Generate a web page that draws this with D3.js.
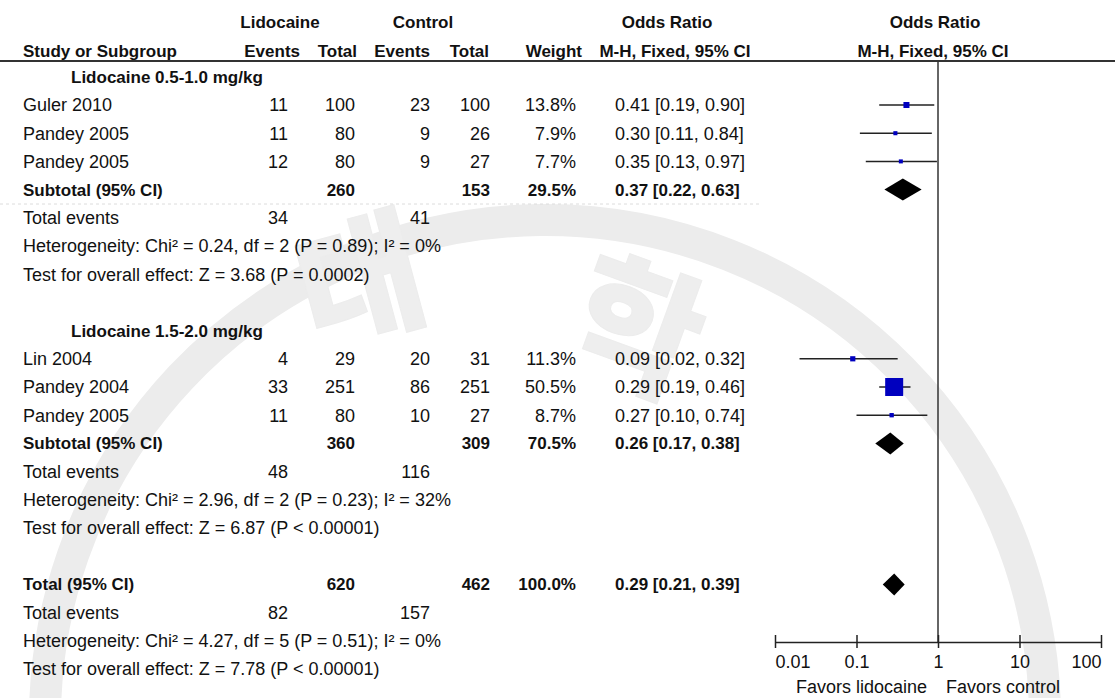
<!DOCTYPE html>
<html>
<head>
<meta charset="utf-8">
<script src="https://cdn.jsdelivr.net/npm/d3@7"></script>
<style>
  body { margin: 0; background: #fff; }
  svg text { font-family: "Liberation Sans", Arial, sans-serif; font-size: 18px; fill: #111; }
  svg text.b { font-weight: bold; font-size: 17px; }
</style>
</head>
<body>
<div id="chart"></div>
<script>
// study level data
const studyNames = ["Guler 2010", "Pandey 2005", "Pandey 2005", "Lin 2004", "Pandey 2004", "Pandey 2005"];
const studyGroup = [0, 0, 0, 1, 1, 1];
const lidoEvents = [11, 11, 12, 4, 33, 11];
const lidoTotal = [100, 80, 80, 29, 251, 80];
const ctrlEvents = [23, 9, 9, 20, 86, 10];
const ctrlTotal = [100, 26, 27, 31, 251, 27];
const weights = [13.8, 7.9, 7.7, 11.3, 50.5, 8.7];
const oddsRatio = [0.41, 0.30, 0.35, 0.09, 0.29, 0.27];
const ciLow = [0.19, 0.11, 0.13, 0.02, 0.19, 0.10];
const ciHigh = [0.90, 0.84, 0.97, 0.32, 0.46, 0.74];

// subgroups and overall
const groupNames = ["Lidocaine 0.5-1.0 mg/kg", "Lidocaine 1.5-2.0 mg/kg"];
const groupLidoTotal = [260, 360];
const groupCtrlTotal = [153, 309];
const groupWeight = ["29.5%", "70.5%"];
const groupOR = [0.37, 0.26];
const groupLow = [0.22, 0.17];
const groupHigh = [0.63, 0.38];
const groupLidoEvents = [34, 48];
const groupCtrlEvents = [41, 116];
const groupHetero = ["Heterogeneity: Chi² = 0.24, df = 2 (P = 0.89); I² = 0%",
                     "Heterogeneity: Chi² = 2.96, df = 2 (P = 0.23); I² = 32%"];
const groupTest = ["Test for overall effect: Z = 3.68 (P = 0.0002)",
                   "Test for overall effect: Z = 6.87 (P < 0.00001)"];

const totalLido = 620, totalCtrl = 462, totalWeight = "100.0%";
const totalOR = 0.29, totalLow = 0.21, totalHigh = 0.39;
const totalLidoEvents = 82, totalCtrlEvents = 157;
const totalHetero = "Heterogeneity: Chi² = 4.27, df = 5 (P = 0.51); I² = 0%";
const totalTest = "Test for overall effect: Z = 7.78 (P < 0.00001)";

const tickValues = [0.01, 0.1, 1, 10, 100];
const favorLabels = ["Favors lidocaine", "Favors control"];

const width = 1115, height = 698;
const svg = d3.select("#chart").append("svg").attr("width", width).attr("height", height);

// faint watermark behind everything
const wm = svg.append("g").attr("fill", "none").attr("stroke", "#ececec");
wm.append("path").attr("stroke-width", 32)
  .attr("d", d3.arc()({ innerRadius: 500, outerRadius: 500, startAngle: -1.62, endAngle: 1.6 }))
  .attr("transform", "translate(545,720)");
wm.append("text").attr("x", 360).attr("y", 330).attr("text-anchor", "middle")
  .style("font-size", "135px").style("font-weight", 900).style("fill", "#eeeeee")
  .style("font-family", "Noto Sans CJK KR")
  .attr("transform", "rotate(-15,360,280)").text("대");
wm.append("text").attr("x", 640).attr("y", 380).attr("text-anchor", "middle")
  .style("font-size", "140px").style("font-weight", 900).style("fill", "#eeeeee")
  .style("font-family", "Noto Sans CJK KR")
  .attr("transform", "rotate(20,640,320)").text("학");

const x = d3.scaleLog().domain([0.01, 100]).range([775, 1101]);
const rowY = d3.scaleLinear().domain([0, 20]).range([105, 669]);
const boxSize = d3.scaleLinear().domain([0, 50.5]).range([1.5, 18]);

const col = { name: 23, indent: 71, le: 288, lt: 355, ce: 430, ct: 490, w: 576, ci: 615 };

function txt(xp, yp, s, anchor, bold) {
  return svg.append("text").attr("x", xp).attr("y", yp).attr("dy", "0.35em")
    .attr("text-anchor", anchor || "start").classed("b", !!bold).text(s);
}
const fmt = d3.format(".2f");
const ciText = (o, l, h) => `${fmt(o)} [${fmt(l)}, ${fmt(h)}]`;

// header
txt(280, 22, "Lidocaine", "middle", true);
txt(423, 22, "Control", "middle", true);
txt(667, 22, "Odds Ratio", "middle", true);
txt(935, 22, "Odds Ratio", "middle", true);
txt(col.name, 51, "Study or Subgroup", "start", true);
txt(300, 51, "Events", "end", true);
txt(357, 51, "Total", "end", true);
txt(430, 51, "Events", "end", true);
txt(489, 51, "Total", "end", true);
txt(582, 51, "Weight", "end", true);
txt(675, 51, "M-H, Fixed, 95% CI", "middle", true);
txt(933, 51, "M-H, Fixed, 95% CI", "middle", true);
svg.append("line").attr("x1", 0).attr("x2", width).attr("y1", 61).attr("y2", 61)
  .attr("stroke", "#333").attr("stroke-width", 2);

// line of no effect
svg.append("line").attr("x1", x(1)).attr("x2", x(1)).attr("y1", 61).attr("y2", 642)
  .attr("stroke", "#333").attr("stroke-width", 1.5);

function diamond(o, l, h, yp) {
  const hh = 11;
  svg.append("path")
    .attr("d", `M${x(l)},${yp}L${x(o)},${yp - hh}L${x(h)},${yp}L${x(o)},${yp + hh}Z`)
    .attr("fill", "#000");
}

const groupStart = [0, 9];
groupNames.forEach((g, gi) => {
  const start = groupStart[gi];
  txt(col.indent, rowY(start - 1), g, "start", true);
  const idx = studyNames.map((d, i) => i).filter(i => studyGroup[i] === gi);
  idx.forEach((i, j) => {
    const yp = rowY(start + j);
    txt(col.name, yp, studyNames[i]);
    txt(col.le, yp, lidoEvents[i], "end");
    txt(col.lt, yp, lidoTotal[i], "end");
    txt(col.ce, yp, ctrlEvents[i], "end");
    txt(col.ct, yp, ctrlTotal[i], "end");
    txt(col.w, yp, weights[i].toFixed(1) + "%", "end");
    txt(col.ci, yp, ciText(oddsRatio[i], ciLow[i], ciHigh[i]));
    svg.append("line").attr("x1", x(ciLow[i])).attr("x2", x(ciHigh[i]))
      .attr("y1", yp).attr("y2", yp).attr("stroke", "#222").attr("stroke-width", 1.5);
    const s = boxSize(weights[i]);
    svg.append("rect").attr("x", x(oddsRatio[i]) - s / 2).attr("y", yp - s / 2)
      .attr("width", s).attr("height", s).attr("fill", "#0000bf");
  });
  const ys = rowY(start + idx.length);
  txt(col.name, ys, "Subtotal (95% CI)", "start", true);
  txt(col.lt, ys, groupLidoTotal[gi], "end", true);
  txt(col.ct, ys, groupCtrlTotal[gi], "end", true);
  txt(col.w, ys, groupWeight[gi], "end", true);
  txt(col.ci, ys, ciText(groupOR[gi], groupLow[gi], groupHigh[gi]), "start", true);
  diamond(groupOR[gi], groupLow[gi], groupHigh[gi], ys);
  txt(col.name, rowY(start + idx.length + 1), "Total events");
  txt(col.le, rowY(start + idx.length + 1), groupLidoEvents[gi], "end");
  txt(col.ce, rowY(start + idx.length + 1), groupCtrlEvents[gi], "end");
  txt(col.name, rowY(start + idx.length + 2), groupHetero[gi]);
  txt(col.name, rowY(start + idx.length + 3), groupTest[gi]);
});

// faint dotted line under first subtotal
svg.append("line").attr("x1", 0).attr("x2", 760).attr("y1", 204).attr("y2", 204)
  .attr("stroke", "#dcdcdc").attr("stroke-dasharray", "3,3");

// overall
const yt = rowY(17);
txt(col.name, yt, "Total (95% CI)", "start", true);
txt(col.lt, yt, totalLido, "end", true);
txt(col.ct, yt, totalCtrl, "end", true);
txt(col.w, yt, totalWeight, "end", true);
txt(col.ci, yt, ciText(totalOR, totalLow, totalHigh), "start", true);
diamond(totalOR, totalLow, totalHigh, yt);
txt(col.name, rowY(18), "Total events");
txt(col.le, rowY(18), totalLidoEvents, "end");
txt(col.ce, rowY(18), totalCtrlEvents, "end");
txt(col.name, rowY(19), totalHetero);
txt(col.name, rowY(20), totalTest);

// axis
const axis = svg.append("g").attr("transform", "translate(0,642)")
  .call(d3.axisBottom(x).tickValues(tickValues).tickSizeOuter(0).tickFormat(d => String(d)));
axis.select(".domain").attr("stroke", "#222").attr("stroke-width", 1.5);
axis.selectAll(".tick line").attr("y1", -7).attr("y2", 6).attr("stroke", "#222").attr("stroke-width", 1.5);
axis.selectAll(".tick text").attr("y", 13).style("font-size", "18px").style("fill", "#111")
  .attr("text-anchor", (d, i) => i === 0 ? "start" : i === tickValues.length - 1 ? "end" : "middle");

txt(x(1) - 11, 687, favorLabels[0], "end");
txt(x(1) + 8, 687, favorLabels[1], "start");
</script>
</body>
</html>
